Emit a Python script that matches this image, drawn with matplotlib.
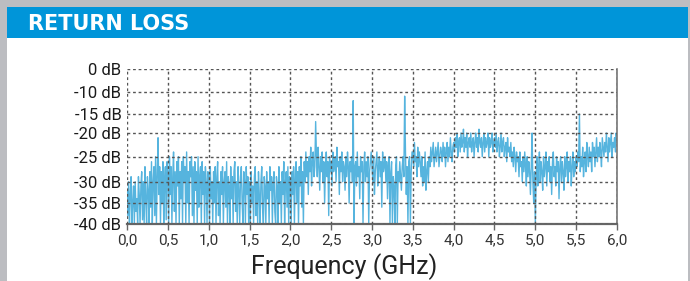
import numpy as np
import matplotlib
matplotlib.use("Agg")
import matplotlib.pyplot as plt
from matplotlib.patches import Rectangle

# ---- data ----
title = "RETURN LOSS"
xlabel = "Frequency (GHz)"
freq_step = 0.01
seg_starts = [0.0, 0.5, 1.0, 1.5, 2.0, 2.5, 3.0, 3.5, 4.0, 4.5, 5.0, 5.5]
rl_0_05 = [-32, -38, -30, -40, -33, -29, -40, -35, -31, -40, -30, -37, -34, -40, -29, -33, -40, -31, -28, -39,
           -30, -40, -27, -34, -40, -29, -32, -40, -28, -36, -26, -40, -30, -27, -38, -25, -40, -29, -21, -33,
           -27, -40, -28, -35, -26, -40, -30, -27, -39, -26]
rl_05_10 = [-28, -40, -25, -33, -27, -40, -29, -24, -37, -28, -40, -26, -31, -25, -40, -28, -34, -26, -40, -25,
            -30, -27, -40, -24, -35, -28, -40, -26, -29, -25, -38, -27, -40, -26, -32, -28, -40, -25, -36, -29,
            -27, -40, -26, -33, -28, -40, -27, -30, -40, -28]
rl_10_15 = [-29, -40, -27, -34, -30, -40, -28, -35, -27, -40, -29, -26, -38, -30, -40, -28, -33, -27, -40, -30,
            -28, -36, -26, -40, -29, -31, -40, -27, -34, -29, -40, -28, -26, -37, -30, -40, -27, -32, -40, -29,
            -27, -35, -40, -28, -30, -40, -27, -33, -29, -40]
rl_15_20 = [-30, -40, -28, -35, -31, -40, -29, -27, -38, -30, -40, -28, -33, -40, -30, -27, -36, -40, -29, -31,
            -40, -28, -34, -30, -40, -27, -32, -29, -40, -30, -28, -37, -40, -29, -31, -40, -27, -35, -30, -40,
            -28, -33, -26, -40, -30, -28, -36, -27, -40, -29]
rl_20_25 = [-30, -40, -28, -33, -27, -40, -29, -26, -35, -28, -40, -27, -31, -25, -36, -28, -40, -26, -30, -24,
            -29, -26, -33, -25, -28, -23, -31, -26, -24, -29, -27, -17, -25, -29, -23, -27, -32, -25, -28, -24,
            -30, -26, -35, -27, -24, -29, -26, -38, -25, -28]
rl_25_30 = [-26, -31, -24, -28, -27, -25, -30, -23, -27, -26, -33, -25, -28, -24, -30, -26, -27, -32, -25, -29,
            -24, -27, -35, -26, -28, -25, -30, -12, -40, -27, -26, -31, -24, -29, -27, -34, -25, -28, -26, -40,
            -27, -24, -30, -26, -29, -25, -40, -28, -26, -24]
rl_30_35 = [-27, -30, -25, -33, -28, -26, -24, -31, -27, -25, -29, -26, -36, -24, -28, -27, -25, -30, -26, -34,
            -27, -25, -40, -28, -26, -40, -29, -31, -40, -27, -25, -40, -28, -30, -26, -29, -32, -27, -25, -29,
            -11, -24, -33, -27, -40, -26, -25, -40, -28, -24]
rl_35_40 = [-24, -27, -22, -26, -25, -29, -23, -27, -24, -26, -29, -25, -31, -27, -30, -24, -32, -28, -26, -30,
            -25, -27, -23, -26, -24, -22, -27, -25, -23, -26, -24, -22, -27, -25, -23, -24, -26, -22, -25, -23,
            -27, -24, -22, -26, -23, -25, -21, -24, -26, -23]
rl_40_45 = [-22, -24, -21, -23, -20, -25, -22, -21, -24, -20, -23, -22, -19, -24, -21, -23, -20, -25, -22, -21,
            -23, -20, -24, -22, -21, -25, -22, -20, -23, -21, -24, -19, -22, -23, -21, -25, -22, -20, -24, -21,
            -23, -22, -20, -25, -21, -23, -22, -20, -24, -22]
rl_45_50 = [-21, -23, -20, -24, -22, -21, -25, -23, -20, -24, -22, -21, -25, -23, -22, -26, -21, -24, -23, -25,
            -22, -26, -24, -27, -23, -25, -28, -24, -26, -25, -29, -24, -27, -26, -30, -25, -28, -24, -27, -31,
            -25, -29, -26, -28, -33, -27, -20, -30, -35, -28]
rl_50_55 = [-40, -29, -25, -31, -27, -24, -30, -26, -28, -32, -25, -29, -27, -24, -31, -26, -28, -25, -30, -27,
            -33, -26, -24, -29, -27, -31, -25, -28, -26, -34, -27, -25, -30, -26, -28, -32, -25, -29, -27, -24,
            -30, -26, -28, -25, -31, -27, -24, -29, -26, -28]
rl_55_60 = [-25, -27, -24, -26, -15, -28, -25, -27, -23, -29, -26, -24, -28, -22, -25, -27, -23, -26, -24, -28,
            -22, -25, -23, -27, -24, -21, -26, -23, -25, -22, -24, -27, -21, -23, -25, -22, -24, -20, -23, -26,
            -21, -24, -22, -20, -25, -22, -23, -21, -24, -20, -22]

y_ticks_db = [-40, -35, -30, -25, -20, -15, -10, 0]
y_tick_labels = ["-40 dB", "-35 dB", "-30 dB", "-25 dB", "-20 dB", "-15 dB", "-10 dB", "0 dB"]
x_ticks = [0.0, 0.5, 1.0, 1.5, 2.0, 2.5, 3.0, 3.5, 4.0, 4.5, 5.0, 5.5, 6.0]
x_tick_labels = ["0,0", "0,5", "1,0", "1,5", "2,0", "2,5", "3,0", "3,5", "4,0", "4,5", "5,0", "5,5", "6,0"]
# visual position of each dB tick on the (non-linear) axis
y_tick_pos = [0, 21, 42.3, 67.3, 91, 110, 132.3, 155]

segments = [rl_0_05, rl_05_10, rl_10_15, rl_15_20, rl_20_25, rl_25_30,
            rl_30_35, rl_35_40, rl_40_45, rl_45_50, rl_50_55, rl_55_60]
freq = np.concatenate([s0 + np.arange(len(seg)) * freq_step for s0, seg in zip(seg_starts, segments)])
rl = np.concatenate([np.array(seg, dtype=float) for seg in segments])

# ---- figure ----
W, H = 690, 281
fig = plt.figure(figsize=(W / 100, H / 100), dpi=100)
fig.patch.set_facecolor("#bcbdc1")

def fx(px):
    return px / W

def fy(py):
    return 1 - py / H

fig.add_artist(Rectangle((fx(7), 0), fx(688) - fx(7), fy(37.5), transform=fig.transFigure,
                         facecolor="white", edgecolor="none", zorder=0))
fig.add_artist(Rectangle((fx(7), fy(37.5)), fx(688) - fx(7), fy(7.3) - fy(37.5),
                         transform=fig.transFigure, facecolor="#0095d9", edgecolor="none", zorder=0))
fig.text(fx(28), fy(24.5), title, color="white", fontsize=15, fontweight="bold",
         family="DejaVu Sans", ha="left", va="center")

ax = fig.add_axes([fx(127), fy(224), fx(617) - fx(127), fy(69) - fy(224)])
ax.set_facecolor("white")

def fwd(v):
    return np.interp(v, y_ticks_db, y_tick_pos)

def inv(v):
    return np.interp(v, y_tick_pos, y_ticks_db)

ax.set_yscale("function", functions=(fwd, inv))

ax.plot(freq, rl, color="#1e9bd3", lw=1.0, alpha=0.75, zorder=2)

ax.set_xlim(0, 6.0)
ax.set_ylim(-40, 0)
ax.set_xticks(x_ticks)
ax.set_xticklabels(x_tick_labels)
ax.set_yticks(y_ticks_db)
ax.set_yticklabels(y_tick_labels)
ax.minorticks_off()

tick_font = ["Roboto", "DejaVu Sans"]
for lab in ax.get_xticklabels():
    lab.set_family(tick_font)
    lab.set_fontsize(11)
    lab.set_color("#333333")
for lab in ax.get_yticklabels():
    lab.set_family(tick_font)
    lab.set_fontsize(12)
    lab.set_color("#1a1a1a")

ax.tick_params(axis="x", direction="out", length=4, width=1, color="#666666", pad=3)
ax.tick_params(axis="y", length=0, pad=4)

ax.grid(True, color="#555555", lw=1.0, linestyle=(0, (2, 2)), zorder=3)
ax.set_axisbelow(False)
for s in ["left", "top"]:
    ax.spines[s].set_visible(False)
ax.spines["right"].set_color("#777777")
ax.spines["right"].set_linewidth(1.2)
ax.spines["bottom"].set_color("#666666")
ax.spines["bottom"].set_linewidth(1.6)

fig.text(fx(344), fy(267), xlabel, fontsize=18, family=tick_font, color="#222222",
         ha="center", va="center")

fig.savefig("out.png", dpi=100, facecolor=fig.get_facecolor())
